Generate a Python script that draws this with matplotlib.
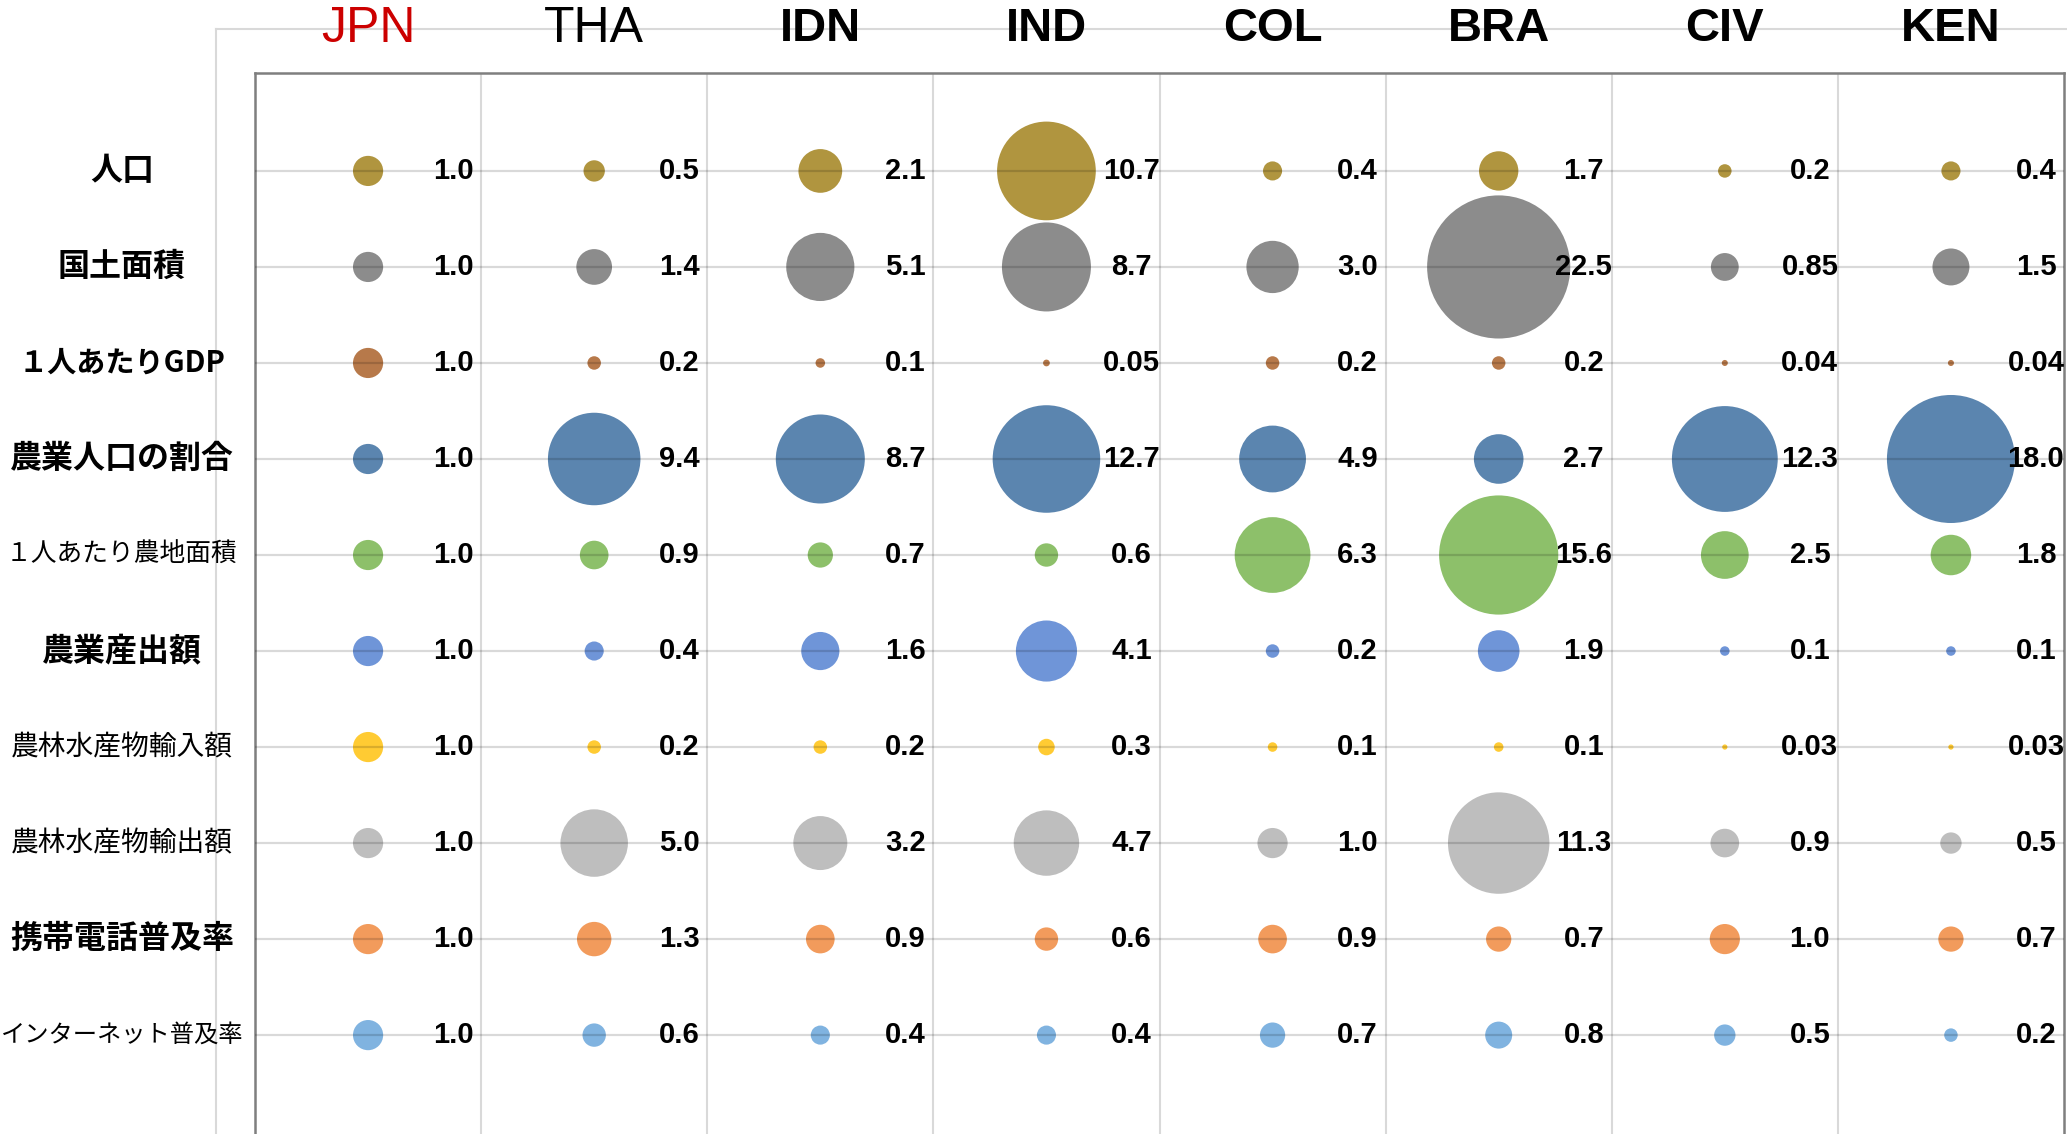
import matplotlib
matplotlib.use("Agg")
from matplotlib import pyplot as plt
from matplotlib.lines import Line2D
import numpy as np

countries = ["JPN", "THA", "IDN", "IND", "COL", "BRA", "CIV", "KEN"]
indicators = ["人口", "国土面積", "１人あたりGDP", "農業人口の割合", "１人あたり農地面積",
              "農業産出額", "農林水産物輸入額", "農林水産物輸出額", "携帯電話普及率",
              "インターネット普及率"]

# ratio to Japan (JPN = 1.0), one list per indicator, in country order
population = [1.0, 0.5, 2.1, 10.7, 0.4, 1.7, 0.2, 0.4]
land_area = [1.0, 1.4, 5.1, 8.7, 3.0, 22.5, 0.85, 1.5]
gdp_per_capita = [1.0, 0.2, 0.1, 0.05, 0.2, 0.2, 0.04, 0.04]
farm_pop_share = [1.0, 9.4, 8.7, 12.7, 4.9, 2.7, 12.3, 18.0]
farmland_per_capita = [1.0, 0.9, 0.7, 0.6, 6.3, 15.6, 2.5, 1.8]
farm_output = [1.0, 0.4, 1.6, 4.1, 0.2, 1.9, 0.1, 0.1]
agri_imports = [1.0, 0.2, 0.2, 0.3, 0.1, 0.1, 0.03, 0.03]
agri_exports = [1.0, 5.0, 3.2, 4.7, 1.0, 11.3, 0.9, 0.5]
mobile_rate = [1.0, 1.3, 0.9, 0.6, 0.9, 0.7, 1.0, 0.7]
internet_rate = [1.0, 0.6, 0.4, 0.4, 0.7, 0.8, 0.5, 0.2]

rows = [population, land_area, gdp_per_capita, farm_pop_share, farmland_per_capita,
        farm_output, agri_imports, agri_exports, mobile_rate, internet_rate]

colors = ["#B0953F", "#8C8C8C", "#B7794A", "#5B85AF", "#8DC06A",
          "#6F95D8", "#FFCB33", "#BEBEBE", "#F29B5C", "#80B3E0"]
label_sizes = [23, 23, 21, 23, 18.5, 23, 20, 20, 23, 17.5]
label_weights = ["bold", "bold", "bold", "bold", "normal",
                 "bold", "normal", "normal", "bold", "normal"]

W, H = 2067, 1134
fig = plt.figure(figsize=(W / 100, H / 100), dpi=100)

# light outer frame (left and top edges only)
fx, fy = 216 / W, 1 - 29 / H
fig.add_artist(Line2D([fx, fx], [0, fy], color="#D9D9D9", lw=1.5, zorder=1))
fig.add_artist(Line2D([fx, 1], [fy, fy], color="#D9D9D9", lw=1.5, zorder=1))

ax = fig.add_axes([255 / W, 0, (2064 - 255) / W, 1 - 73 / H])
ax.set_xlim(0, len(countries))
ax.set_ylim(11.03, -0.02)
ax.set_xticks([])
ax.set_yticks([])
for s in ["left", "top", "right"]:
    ax.spines[s].set_color("#7F7F7F")
    ax.spines[s].set_linewidth(1.8)
ax.spines["bottom"].set_visible(False)

for i in range(1, len(countries)):
    ax.axvline(i, color="#D9D9D9", lw=1.5, zorder=1)

def fmt(v):
    return f"{v:.1f}" if round(v, 1) == v else f"{v:.2f}"

xs = np.arange(len(countries)) + 0.5
for r, vals in enumerate(rows):
    y = r + 1
    ax.scatter(xs, [y] * len(xs), s=np.array(vals) * 472, color=colors[r],
               edgecolors="none", zorder=2)
    # gridline sits above the bubbles, translucent so it darkens them
    ax.axhline(y, color="black", alpha=0.15, lw=1.6, zorder=3)
    for x, v in zip(xs, vals):
        ax.text(x + 0.376, y, fmt(v), ha="center", va="center", fontsize=21,
                fontweight="bold", family=["Liberation Sans", "DejaVu Sans"],
                zorder=4)
    fig.text(122 / W, 1 - (171 + 96 * r) / H, indicators[r], ha="center", va="center",
             fontsize=label_sizes[r], fontweight=label_weights[r],
             family=["Noto Sans CJK JP", "DejaVu Sans"])

for i, c in enumerate(countries):
    xf = (255 + (i + 0.5) * (2064 - 255) / len(countries)) / W
    plain = c in ("JPN", "THA")
    fig.text(xf, fy, c, ha="center", va="center", fontsize=36 if plain else 34,
             color="#CC0000" if c == "JPN" else "black",
             fontweight="normal" if plain else "bold",
             family=["Liberation Sans", "DejaVu Sans"], zorder=5)

fig.savefig("out.png", dpi=100, facecolor="white")
